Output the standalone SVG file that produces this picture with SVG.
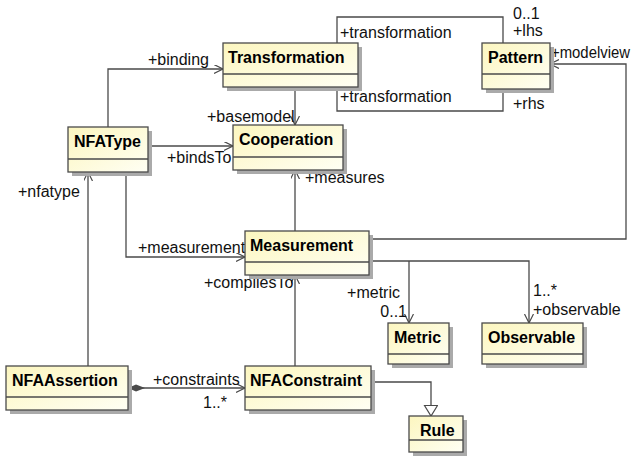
<svg xmlns="http://www.w3.org/2000/svg" width="635" height="464" viewBox="0 0 635 464">
<defs>
<linearGradient id="fill" x1="0" y1="0" x2="1" y2="1">
<stop offset="0" stop-color="#fcf6bf"/>
<stop offset="1" stop-color="#fffff4"/>
</linearGradient>
<marker id="open" markerUnits="userSpaceOnUse" markerWidth="12" markerHeight="12" refX="9" refY="4.5" orient="auto">
<path d="M0,0 L9,4.5 L0,9" fill="none" stroke="#4a4a4a" stroke-width="1.2"/>
</marker>
<marker id="gen" markerUnits="userSpaceOnUse" markerWidth="16" markerHeight="16" refX="11" refY="7" orient="auto">
<path d="M0.5,0.5 L11,7 L0.5,13.5 Z" fill="#fff" stroke="#4a4a4a" stroke-width="1.2"/>
</marker>
<marker id="diamond" markerUnits="userSpaceOnUse" markerWidth="20" markerHeight="10" refX="0" refY="4" orient="auto">
<path d="M0,4 L8,0.5 L17,4 L8,7.5 Z" fill="#4a4a4a"/>
</marker>
</defs>
<style>
.sh{fill:#aaaaaa}
.bx{fill:url(#fill);stroke:#4a4a4a;stroke-width:1.3}
.dv{stroke:#4a4a4a;stroke-width:1.3}
.nm{font-family:"Liberation Sans",Arial,sans-serif;font-weight:bold;font-size:16px;fill:#000}
.lb{font-family:"Liberation Sans",Arial,sans-serif;font-size:16px;fill:#111}
.ln{fill:none;stroke:#4a4a4a;stroke-width:1.3}
</style>
<g id="connectors">
<polyline class="ln" points="108,127 108,69 223,69" marker-end="url(#open)"/>
<polyline class="ln" points="295,87 295,125" marker-end="url(#open)"/>
<polyline class="ln" points="148,146 233,146" marker-end="url(#open)"/>
<polyline class="ln" points="337,43 337,17 503,17 503,43"/>
<polyline class="ln" points="337,87 337,111 503,111 503,89"/>
<polyline class="ln" points="369,239 626,239 626,64 550,64" marker-end="url(#open)"/>
<polyline class="ln" points="295,231 295,170" marker-end="url(#open)"/>
<polyline class="ln" points="126,172 126,257 245,257" marker-end="url(#open)"/>
<polyline class="ln" points="88,366 88,172" marker-end="url(#open)"/>
<polyline class="ln" points="295,366 295,275" marker-end="url(#open)"/>
<polyline class="ln" points="128,388 245,388" marker-start="url(#diamond)" marker-end="url(#open)"/>
<polyline class="ln" points="369,261 529,261 529,323" marker-end="url(#open)"/>
<polyline class="ln" points="409,261 409,323" marker-end="url(#open)"/>
<polyline class="ln" points="371,382 431,382 431,416" marker-end="url(#gen)"/>
<text class="lb" x="148" y="65">+binding</text>
<text class="lb" x="207" y="122">+basemodel</text>
<text class="lb" x="167" y="163">+bindsTo</text>
<text class="lb" x="340" y="38">+transformation</text>
<text class="lb" x="513" y="19">0..1</text>
<text class="lb" x="513" y="36">+lhs</text>
<text class="lb" x="340" y="102">+transformation</text>
<text class="lb" x="513" y="109">+rhs</text>
<text class="lb" x="551" y="58" textLength="79" lengthAdjust="spacingAndGlyphs">+modelview</text>
<text class="lb" x="305" y="183">+measures</text>
<text class="lb" x="138" y="253">+measurement</text>
<text class="lb" x="18" y="197">+nfatype</text>
<text class="lb" x="204" y="288">+compliesTo</text>
<text class="lb" x="153" y="385">+constraints</text>
<text class="lb" x="203" y="408">1..*</text>
<text class="lb" x="400" y="298" text-anchor="end">+metric</text>
<text class="lb" x="407" y="317" text-anchor="end">0..1</text>
<text class="lb" x="533" y="296">1..*</text>
<text class="lb" x="533" y="315">+observable</text>
</g>
<g id="Transformation">
<rect class="sh" x="227" y="47" width="135" height="44"/>
<rect class="bx" x="223" y="43" width="135" height="44"/>
<line class="dv" x1="223" y1="74" x2="358" y2="74"/>
<text class="nm" x="228" y="63">Transformation</text>
</g>
<g id="Pattern">
<rect class="sh" x="486" y="47" width="68" height="46"/>
<rect class="bx" x="482" y="43" width="68" height="46"/>
<line class="dv" x1="482" y1="74" x2="550" y2="74"/>
<text class="nm" x="488" y="63">Pattern</text>
</g>
<g id="NFAType">
<rect class="sh" x="72" y="131" width="80" height="45"/>
<rect class="bx" x="68" y="127" width="80" height="45"/>
<line class="dv" x1="68" y1="159" x2="148" y2="159"/>
<text class="nm" x="74" y="147">NFAType</text>
</g>
<g id="Cooperation">
<rect class="sh" x="237" y="129" width="110" height="45"/>
<rect class="bx" x="233" y="125" width="110" height="45"/>
<line class="dv" x1="233" y1="157" x2="343" y2="157"/>
<text class="nm" x="239" y="145">Cooperation</text>
</g>
<g id="Measurement">
<rect class="sh" x="249" y="235" width="124" height="44"/>
<rect class="bx" x="245" y="231" width="124" height="44"/>
<line class="dv" x1="245" y1="262" x2="369" y2="262"/>
<text class="nm" x="250" y="251">Measurement</text>
</g>
<g id="Metric">
<rect class="sh" x="392" y="327" width="61" height="41"/>
<rect class="bx" x="388" y="323" width="61" height="41"/>
<line class="dv" x1="388" y1="354" x2="449" y2="354"/>
<text class="nm" x="394" y="343">Metric</text>
</g>
<g id="Observable">
<rect class="sh" x="486" y="327" width="101" height="41"/>
<rect class="bx" x="482" y="323" width="101" height="41"/>
<line class="dv" x1="482" y1="354" x2="583" y2="354"/>
<text class="nm" x="488" y="343">Observable</text>
</g>
<g id="NFAAssertion">
<rect class="sh" x="10" y="370" width="122" height="44"/>
<rect class="bx" x="6" y="366" width="122" height="44"/>
<line class="dv" x1="6" y1="397" x2="128" y2="397"/>
<text class="nm" x="12" y="386">NFAAssertion</text>
</g>
<g id="NFAConstraint">
<rect class="sh" x="249" y="370" width="126" height="44"/>
<rect class="bx" x="245" y="366" width="126" height="44"/>
<line class="dv" x1="245" y1="397" x2="371" y2="397"/>
<text class="nm" x="250" y="386">NFAConstraint</text>
</g>
<g id="Rule">
<rect class="sh" x="413" y="420" width="54" height="36"/>
<rect class="bx" x="409" y="416" width="54" height="36"/>
<line class="dv" x1="409" y1="440" x2="463" y2="440"/>
<text class="nm" x="420" y="436">Rule</text>
</g>
</svg>
